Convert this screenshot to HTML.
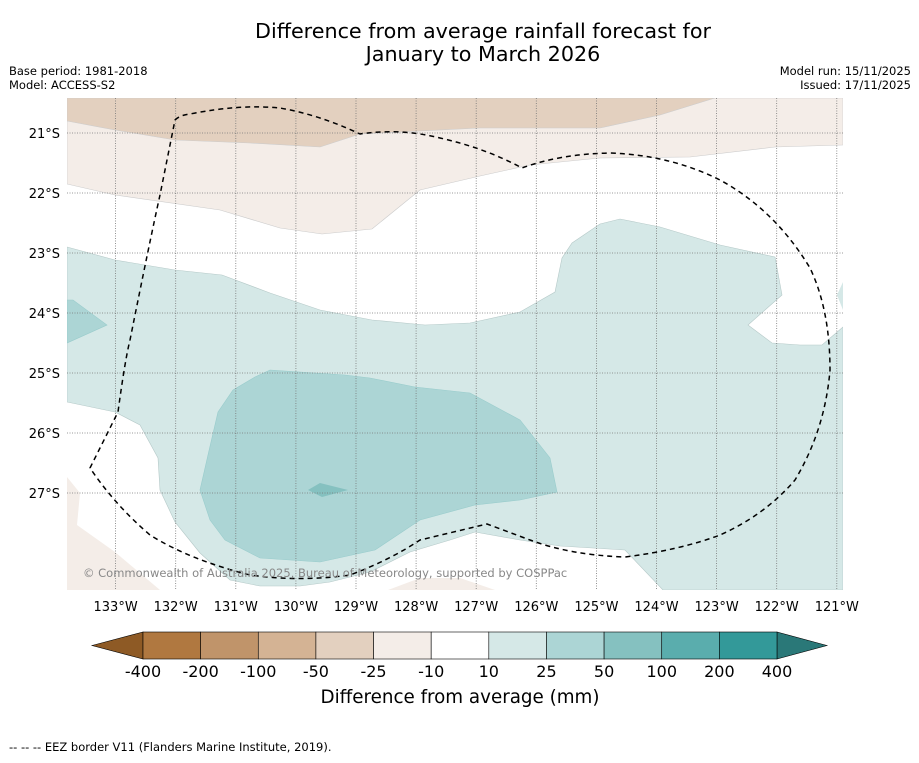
<!DOCTYPE html>
<html><head><meta charset="utf-8"><style>
body{margin:0;background:#fff;font-family:"Liberation Sans","DejaVu Sans",sans-serif;}
svg text{font-family:"DejaVu Sans","Liberation Sans",sans-serif;}
</style></head><body>
<svg width="919" height="758" viewBox="0 0 919 758" xmlns="http://www.w3.org/2000/svg">
<rect width="919" height="758" fill="#fff"/>
<g font-size="20.7" text-anchor="middle" fill="#000">
<text x="483" y="38">Difference from average rainfall forecast for</text>
<text x="483" y="61">January to March 2026</text>
</g>
<g font-size="11.5" fill="#000">
<text x="9" y="75">Base period: 1981-2018</text>
<text x="9" y="89">Model: ACCESS-S2</text>
<text x="911" y="75" text-anchor="end">Model run: 15/11/2025</text>
<text x="911" y="89" text-anchor="end">Issued: 17/11/2025</text>
</g>
<defs><clipPath id="mc"><rect x="67" y="98" width="776" height="492"/></clipPath></defs>
<g clip-path="url(#mc)" stroke-width="0.6">
<path fill="#f4ede8" stroke="#ccc" d="M67,98 L843,98 L843,145 L775,147 L690,157 L600,158 L530,165 L480,176 L420,190 L372,229 L322,234 L280,228 L220,210 L115,195 L67,184 Z"/>
<path fill="#e3d0bf" stroke="#ccc" d="M67,98 L715,98 L660,115 L600,128 L480,128 L360,134 L320,147 L250,143 L175,140 L115,130 L67,121 Z"/>
<path fill="#f4ede8" d="M67,477 L80,493 L77,525 L115,552 L160,590 L67,590 Z"/>
<path fill="#f4ede8" d="M388,590 L420,578 L460,578 L495,590 Z"/>
<path fill="#d5e8e7" stroke="#b5c9c8" d="M67,247 L115,260 L175,270 L222,275 L270,293 L320,310 L372,320 L425,325 L470,323 L520,312 L555,292 L562,258 L572,243 L600,224 L620,219 L660,227 L720,245 L775,257 L782,295 L765,310 L748,325 L772,343 L800,345 L822,345 L843,327 L843,590 L663,590 L625,550 L560,546 L520,540 L475,532 L450,540 L410,552 L370,572 L330,582 L300,586 L260,586 L230,580 L200,553 L175,522 L160,490 L158,458 L140,425 L115,412 L67,402 Z"/>
<path fill="#d5e8e7" d="M843,282 L837,295 L843,310 Z"/>
<path fill="#acd5d5" stroke="#9cc" d="M67,300 L73,300 L107,325 L67,343 Z"/>
<path fill="#acd5d5" stroke="#9cc" d="M233,390 L255,377 L270,370 L300,372 L345,375 L370,378 L415,387 L470,393 L520,420 L550,458 L557,492 L520,500 L475,505 L420,520 L375,550 L320,562 L260,558 L225,540 L210,520 L200,490 L208,455 L218,412 Z"/>
<path fill="#85c1c0" d="M308,490 L320,483 L348,490 L322,497 Z"/>
<g stroke="#777" stroke-width="0.8" stroke-dasharray="1,1.5" id="grid"></g>
<path fill="none" stroke="#000" stroke-width="1.5" stroke-dasharray="5,4" stroke-linejoin="round" d="M175,120 Q180,115 190,114 Q240,104 280,108 Q320,115 360,134 Q400,128 440,138 Q485,148 522,168 Q560,154 610,153 Q670,155 720,180 Q775,210 810,268 Q830,310 830,370 Q825,430 795,480 Q765,515 720,535 Q680,550 625,557 Q570,555 530,540 L487,524 L420,540 Q390,560 350,575 Q300,582 250,575 Q190,560 150,535 Q115,505 90,468 L118,412 Q125,360 130,340 Q150,240 160,195 Z"/>
<text x="83" y="577" font-size="11.5" fill="#888">© Commonwealth of Australia 2025, Bureau of Meteorology, supported by COSPPac</text>
</g>
<g id="xt" font-size="13" fill="#000" text-anchor="middle"></g>
<g id="yt" font-size="13" fill="#000" text-anchor="end"></g>
<g id="cb" font-size="16" fill="#000" text-anchor="middle"></g>
<text x="460" y="703" font-size="18.3" text-anchor="middle">Difference from average (mm)</text>
<text x="9" y="751" font-size="11.5">--  --  -- EEZ border V11 (Flanders Marine Institute, 2019).</text>
</svg>
<script>
const lonTicks=[133,132,131,130,129,128,127,126,125,124,123,122,121];
const latTicks=[21,22,23,24,25,26,27];
const cbLabels=["-400","-200","-100","-50","-25","-10","10","25","50","100","200","400"];
const cbColors=["#b07840","#c0946a","#d4b394","#e3d0bf","#f4ede8","#ffffff","#d5e8e7","#acd5d5","#85c1c0","#5aadad","#339999"];
const NS="http://www.w3.org/2000/svg";
function xs(lonW){return 115.6+(133-lonW)*60.1;}
function ys(latS){return 133+(latS-21)*60;}
const grid=document.getElementById('grid'),xt=document.getElementById('xt'),yt=document.getElementById('yt'),cb=document.getElementById('cb');
function mk(t,a,p){const e=document.createElementNS(NS,t);for(const k in a)e.setAttribute(k,a[k]);p.appendChild(e);return e;}
lonTicks.forEach(l=>{const x=xs(l);
 const g=mk('line',{x1:x,x2:x,y1:98,y2:590},grid);
 
 
 const t=mk('text',{x:x,y:611},xt);t.textContent=l+'°W';
 
 
});
latTicks.forEach(l=>{const y=ys(l);
 const g=mk('line',{x1:67,x2:843,y1:y,y2:y},grid);
 
 
 const t=mk('text',{x:60,y:y+5},yt);t.textContent=l+'°S';
 
 
});
const x0=143,x1=777,w=(x1-x0)/cbColors.length,cy=632,ch=27;
const lt=mk('polygon',{points:`92,${cy+ch/2} ${x0},${cy} ${x0},${cy+ch}`,fill:'#8e5a25',stroke:'#000','stroke-width':0.6},cb);


const rt=mk('polygon',{points:`827,${cy+ch/2} ${x1},${cy} ${x1},${cy+ch}`,fill:'#2a7878',stroke:'#000','stroke-width':0.6},cb);


cbColors.forEach((c,i)=>{const r=mk('rect',{x:x0+i*w,y:cy,width:w,height:ch,fill:c,stroke:'#000','stroke-width':0.6},cb);
 
 });
cbLabels.forEach((s,i)=>{const t=mk('text',{x:x0+i*w,y:677},cb);t.textContent=s;
 
 });
</script>
</body></html>
